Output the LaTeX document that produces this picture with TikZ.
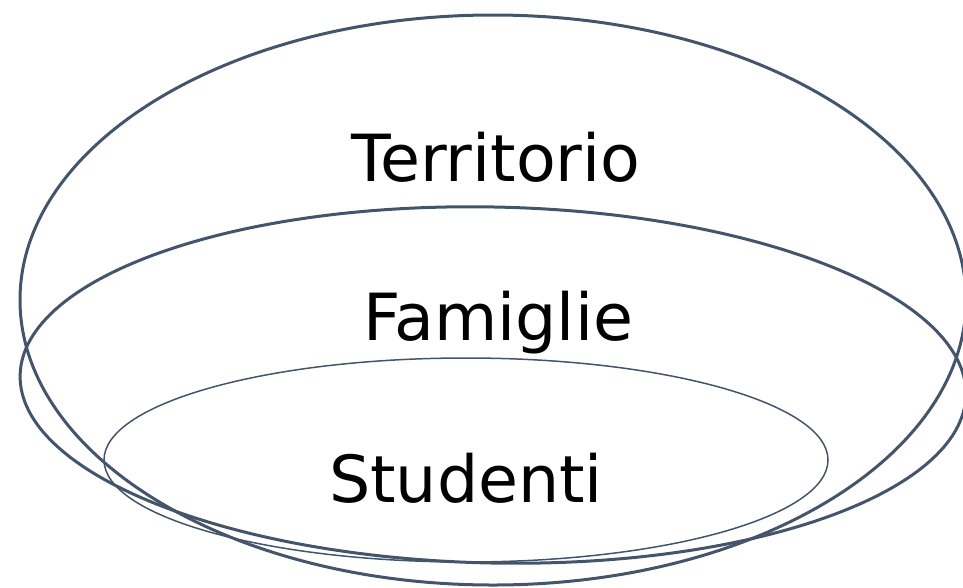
\documentclass[tikz,border=0pt]{standalone}
\usepackage{fontspec}
\setmainfont{DejaVu Sans}
\definecolor{slate}{HTML}{44546A}
\begin{document}
\begin{tikzpicture}[x=1pt,y=-1pt,
  ring/.style={draw=slate,line width=3pt},
  innerring/.style={draw=slate,line width=1.5pt},
  label/.style={font=\fontsize{65}{65}\selectfont,anchor=base,inner sep=0pt}]
  \useasboundingbox (0,0) rectangle (963,587);
  \clip (0,0) rectangle (963,587);
  % nested circles of the community
  \draw[ring] (493,300) ellipse [x radius=473, y radius=285];
  \draw[ring,rotate around={-1.2:(493,385)}] (493,385) ellipse [x radius=473, y radius=178];
  \draw[innerring] (466,460) ellipse [x radius=362, y radius=102];
  % labels
  \node[label] (territorio) at (496,181) {Territorio};
  \node[label] (famiglie) at (498,340) {Famiglie};
  \node[label] (studenti) at (466,502) {Studenti};
\end{tikzpicture}
\end{document}
